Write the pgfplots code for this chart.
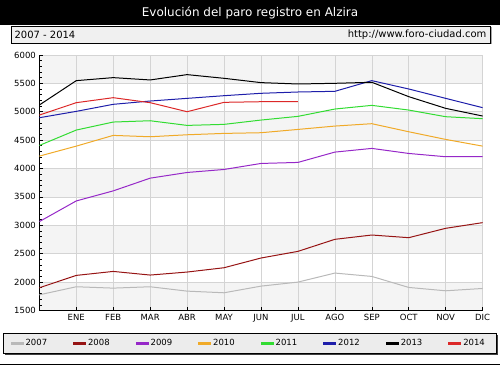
\documentclass[border=0pt]{standalone}
\usepackage{fontspec}
\setmainfont{DejaVu Sans}
\usepackage{pgfplots}
\pgfplotsset{compat=1.18}
\definecolor{c07}{RGB}{185,185,185}
\definecolor{c08}{RGB}{150,20,20}
\definecolor{c09}{RGB}{150,40,200}
\definecolor{c10}{RGB}{240,170,40}
\definecolor{c11}{RGB}{50,220,50}
\definecolor{c12}{RGB}{30,30,170}
\definecolor{c13}{RGB}{0,0,0}
\definecolor{c14}{RGB}{220,40,40}
\definecolor{band}{RGB}{244,244,244}
\definecolor{gridc}{RGB}{212,212,212}
\definecolor{boxfill}{RGB}{240,240,240}
\definecolor{legfill}{RGB}{236,236,236}
\begin{document}
\begin{tikzpicture}
\path (0pt,0pt) rectangle (500pt,366pt);
% title bar
\fill[black] (0pt,341pt) rectangle (500pt,366pt);
\node[white, font=\fontsize{12}{14}\selectfont] at (250pt,353.5pt) {Evolución del paro registro en Alzira};
% subtitle box
\fill[gray!70] (12.5pt,321.5pt) rectangle (492.5pt,338.5pt);
\draw[black, fill=boxfill, line width=0.8pt] (11pt,323pt) rectangle (491pt,340pt);
\node[anchor=west, font=\fontsize{10}{12}\selectfont, inner sep=0pt] at (14pt,331.5pt) {2007 - 2014};
\node[anchor=east, font=\fontsize{10}{12}\selectfont, inner sep=0pt] at (487pt,331.5pt) {http://www.foro-ciudad.com};
% legend box with shadow
\fill[black!75] (4.5pt,10.5pt) rectangle (498.5pt,30.5pt);
\draw[black, fill=legfill, line width=0.8pt] (3pt,12pt) rectangle (497pt,32pt);
\draw[black, line width=0.8pt] (0pt,1pt) -- (500pt,1pt);
% alternating background bands of the plot area (axis spans 39..483 x 55..311)
\foreach \k in {0,2,4,6,8} {
  \fill[band] (39pt,{55pt+\k*256pt/9}) rectangle (483pt,{55pt+(\k+1)*256pt/9});
}
\begin{axis}[
  at={(39pt,55pt)}, anchor=south west,
  scale only axis, width=444pt, height=256pt,
  xmin=0, xmax=12, ymin=1500, ymax=6000,
  xtick={1,...,12},
  xticklabels={ENE,FEB,MAR,ABR,MAY,JUN,JUL,AGO,SEP,OCT,NOV,DIC},
  ytick={1500,2000,...,6000},
  minor y tick num=4,
  axis x line*=bottom, axis y line*=left,
  axis line style={-, black, line width=0.8pt},
  tick align=inside,
  major tick length=4pt, minor tick length=2.5pt,
  every tick/.style={black, line width=0.6pt},
  grid=major,
  major grid style={gridc, line width=0.6pt},
  tick label style={font=\fontsize{8.5}{10}\selectfont},
  /pgf/number format/assume math mode=true,
  /pgf/number format/1000 sep={},
  legend columns=8,
  legend style={at={(axis description cs:-0.0653,-0.1289)}, anchor=west,
    draw=none, fill=none,
    font=\fontsize{8.5}{10}\selectfont,
    inner xsep=0pt, inner ysep=0pt,
    /tikz/every even column/.append style={column sep=24pt}},
  legend image code/.code={\fill[#1] (0pt,-0.9pt) rectangle (12pt,0.9pt);},
]
\addplot[color=c07, line width=1pt] coordinates {(0,1776)(1,1918)(2,1894)(3,1918)(4,1841)(5,1812)(6,1929)(7,2000)(8,2159)(9,2100)(10,1906)(11,1847)(12,1888)};
\addlegendentry{2007}
\addplot[color=c08, line width=1pt] coordinates {(0,1900)(1,2118)(2,2188)(3,2124)(4,2177)(5,2253)(6,2424)(7,2541)(8,2753)(9,2829)(10,2782)(11,2947)(12,3047)};
\addlegendentry{2008}
\addplot[color=c09, line width=1pt] coordinates {(0,3065)(1,3429)(2,3606)(3,3830)(4,3930)(5,3983)(6,4089)(7,4107)(8,4289)(9,4354)(10,4265)(11,4207)(12,4207)};
\addlegendentry{2009}
\addplot[color=c10, line width=1pt] coordinates {(0,4218)(1,4394)(2,4583)(3,4559)(4,4594)(5,4618)(6,4630)(7,4688)(8,4747)(9,4789)(10,4647)(11,4512)(12,4394)};
\addlegendentry{2010}
\addplot[color=c11, line width=1pt] coordinates {(0,4406)(1,4677)(2,4818)(3,4841)(4,4759)(5,4777)(6,4853)(7,4918)(8,5047)(9,5112)(10,5029)(11,4912)(12,4877)};
\addlegendentry{2011}
\addplot[color=c12, line width=1pt] coordinates {(0,4894)(1,5006)(2,5130)(3,5188)(4,5235)(5,5282)(6,5324)(7,5347)(8,5359)(9,5547)(10,5400)(11,5235)(12,5071)};
\addlegendentry{2012}
\addplot[color=c13, line width=1pt] coordinates {(0,5118)(1,5547)(2,5600)(3,5559)(4,5653)(5,5588)(6,5512)(7,5488)(8,5500)(9,5518)(10,5265)(11,5059)(12,4924)};
\addlegendentry{2013}
\addplot[color=c14, line width=1pt] coordinates {(0,4941)(1,5159)(2,5247)(3,5159)(4,5000)(5,5165)(6,5176)(7,5176)};
\addlegendentry{2014}
\end{axis}
\end{tikzpicture}
\end{document}
